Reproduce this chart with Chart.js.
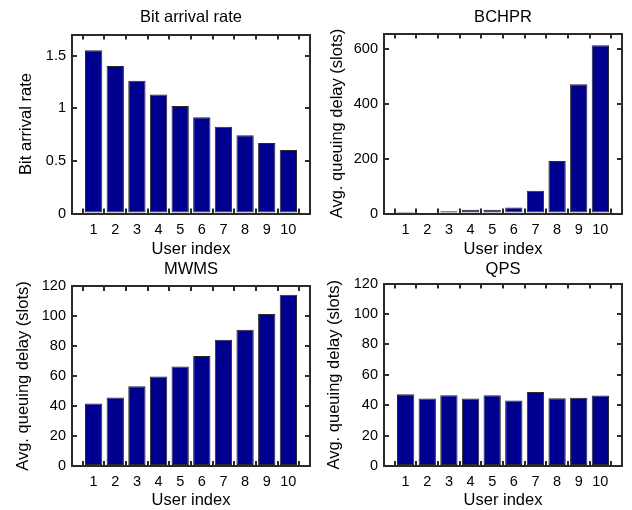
<!DOCTYPE html>
<html lang="en">
<head>
<meta charset="UTF-8" />
<title>Queuing delay per user</title>
<script src="https://cdn.jsdelivr.net/npm/chart.js"></script>
<style>
  body { margin: 0; background: #fff; }
  #fig { position: relative; width: 632px; height: 510px; background: #fff; }
  #fig canvas { position: absolute; }
</style>
</head>
<body>
<div id="fig">
  <canvas id="c1" width="316" height="262" style="left:0px;top:0px"></canvas>
  <canvas id="c2" width="316" height="262" style="left:316px;top:0px"></canvas>
  <canvas id="c3" width="316" height="255" style="left:0px;top:255px"></canvas>
  <canvas id="c4" width="316" height="255" style="left:316px;top:255px"></canvas>
</div>
<script>
// data
const userIndex = [1, 2, 3, 4, 5, 6, 7, 8, 9, 10];
const bitRate = [1.55, 1.40, 1.26, 1.13, 1.02, 0.915, 0.825, 0.742, 0.67, 0.603];
const bchprDelay = [6, 4, 8, 14, 14, 22, 83, 191, 470, 612];
const mwmsDelay = [41.7, 45.7, 53.1, 59.6, 66.4, 73.3, 84.1, 90.8, 101.3, 114.1];
const qpsDelay = [47.1, 44.4, 46.6, 44.4, 46.6, 43, 48.7, 44.6, 44.8, 46.4];

const bitTicks = [0, 0.5, 1, 1.5];
const bchprTicks = [0, 200, 400, 600];
const delayTicks = [0, 20, 40, 60, 80, 100, 120];

const FONT = '"Liberation Sans", Arial, Helvetica, sans-serif';
Chart.defaults.font.family = FONT;
Chart.defaults.color = '#000';

// box on all four sides with inward tick marks (negative tick length points into the box)
const LINE = '#2a2a2a';
const TICK_IN = -5;
const edge = { display: true, color: LINE, width: 2 };
const inTicks = { display: true, drawOnChartArea: false, drawTicks: true, tickLength: TICK_IN, color: LINE, lineWidth: 2 };

function makePanel(id, p) {
  const xTicks = s => { s.ticks = userIndex.map(v => ({ value: v })); };
  const yTicks = s => { s.ticks = p.yTicks.map(v => ({ value: v })); };
  return new Chart(document.getElementById(id), {
    type: 'bar',
    data: {
      datasets: [{
        data: userIndex.map((u, i) => ({ x: u, y: p.values[i] })),
        backgroundColor: '#00008f',
        borderColor: LINE,
        borderWidth: 1,
        borderSkipped: false,
        categoryPercentage: 1,
        barPercentage: 0.8
      }]
    },
    options: {
      responsive: false,
      animation: false,
      events: [],
      layout: { padding: { top: 0, left: 0, bottom: 0, right: p.padRight } },
      plugins: {
        legend: { display: false },
        tooltip: { enabled: false },
        title: {
          display: true,
          text: p.title,
          fullSize: false,
          font: { size: 16.5, weight: 'normal' },
          padding: { top: p.titlePad[0], bottom: p.titlePad[1] }
        }
      },
      scales: {
        x: {
          type: 'linear',
          min: 0,
          max: 11,
          offset: false,
          z: 1,
          grid: inTicks,
          border: edge,
          afterBuildTicks: xTicks,
          afterFit: s => { s.height = p.xHeight; },
          ticks: { font: { size: 14.5 }, padding: 7.6 - TICK_IN, maxRotation: 0, callback: v => String(v) },
          title: {
            display: true,
            text: 'User index',
            font: { size: 16.5 },
            padding: { top: 0, bottom: p.xTitlePad }
          }
        },
        xTop: {
          type: 'linear',
          position: 'top',
          min: 0,
          max: 11,
          offset: false,
          z: 1,
          grid: inTicks,
          border: edge,
          afterBuildTicks: xTicks,
          afterFit: s => { s.height = 0; },
          ticks: { display: false }
        },
        y: {
          min: 0,
          max: p.yMax,
          z: 1,
          grid: inTicks,
          border: edge,
          afterBuildTicks: yTicks,
          afterFit: s => { s.width = p.yWidth; },
          ticks: { font: { size: 14.5 }, padding: 6 - TICK_IN, callback: v => String(v) },
          title: {
            display: true,
            text: p.yTitle,
            font: { size: 16.5 },
            padding: { top: p.yTitlePad, bottom: 0 }
          }
        },
        yRight: {
          position: 'right',
          min: 0,
          max: p.yMax,
          z: 1,
          grid: inTicks,
          border: edge,
          afterBuildTicks: yTicks,
          afterFit: s => { s.width = 0; },
          ticks: { display: false }
        }
      }
    }
  });
}

makePanel('c1', {
  title: 'Bit arrival rate', yTitle: 'Bit arrival rate',
  values: bitRate, yMax: 1.7, yTicks: bitTicks,
  yWidth: 72, padRight: 6, titlePad: [7.6, 7.1], xHeight: 48.5, xTitlePad: 2.9, yTitlePad: 16.6
});
makePanel('c2', {
  title: 'BCHPR', yTitle: 'Avg. queuing delay (slots)',
  values: bchprDelay, yMax: 655, yTicks: bchprTicks,
  yWidth: 68, padRight: 10, titlePad: [7.6, 6.1], xHeight: 48.5, xTitlePad: 2.9, yTitlePad: 11.6
});
makePanel('c3', {
  title: 'MWMS', yTitle: 'Avg. queuing delay (slots)',
  values: mwmsDelay, yMax: 120, yTicks: delayTicks,
  yWidth: 72, padRight: 6, titlePad: [4.6, 6.6], xHeight: 44, xTitlePad: 0, yTitlePad: 13.1
});
makePanel('c4', {
  title: 'QPS', yTitle: 'Avg. queuing delay (slots)',
  values: qpsDelay, yMax: 120, yTicks: delayTicks,
  yWidth: 68, padRight: 10, titlePad: [4.6, 4.1], xHeight: 44, xTitlePad: 0, yTitlePad: 8.6
});
</script>
</body>
</html>
